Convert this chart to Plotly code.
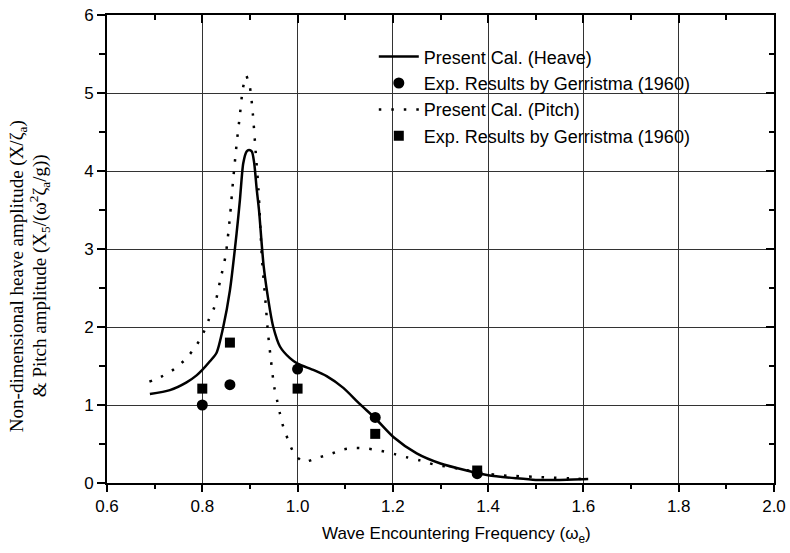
import plotly.graph_objects as go

# Present calculation - heave
heave_x = [0.69, 0.732, 0.767, 0.788, 0.80, 0.816, 0.830, 0.844, 0.858, 0.872, 0.879, 0.886, 0.893, 0.898,
           0.904, 0.909, 0.914, 0.919, 0.929, 0.942, 0.949, 0.963, 0.984, 1.0, 1.033, 1.061, 1.096, 1.131,
           1.163, 1.201, 1.25, 1.30, 1.355, 1.40, 1.46, 1.50, 1.55, 1.61]
heave_y = [1.14, 1.19, 1.29, 1.38, 1.45, 1.56, 1.67, 2.0, 2.47, 3.2, 3.63, 4.10, 4.25, 4.27,
           4.25, 4.10, 3.78, 3.50, 2.77, 2.22, 2.0, 1.75, 1.60, 1.53, 1.45, 1.37, 1.22, 1.01,
           0.83, 0.59, 0.38, 0.25, 0.16, 0.10, 0.06, 0.04, 0.04, 0.05]

# Present calculation - pitch
pitch_x = [0.689, 0.713, 0.741, 0.767, 0.787, 0.802, 0.814, 0.825, 0.837, 0.849, 0.858, 0.865, 0.873,
           0.879, 0.885, 0.892, 0.900, 0.906, 0.912, 0.918, 0.925, 0.933, 0.938, 0.944, 0.951, 0.957,
           0.963, 0.970, 0.979, 0.991, 1.012, 1.04, 1.068, 1.096, 1.12, 1.148, 1.176, 1.204, 1.229,
           1.257, 1.285, 1.313, 1.341, 1.397, 1.425, 1.453, 1.495, 1.53, 1.57, 1.60]
pitch_y = [1.30, 1.36, 1.46, 1.60, 1.76, 1.92, 2.10, 2.25, 2.58, 2.92, 3.41, 3.90, 4.40,
           4.72, 5.05, 5.22, 5.07, 4.74, 4.25, 3.76, 2.90, 2.30, 1.92, 1.58, 1.23, 1.06,
           0.89, 0.72, 0.57, 0.40, 0.27, 0.32, 0.37, 0.43, 0.45, 0.44, 0.41, 0.37, 0.33,
           0.29, 0.24, 0.21, 0.18, 0.12, 0.10, 0.09, 0.08, 0.07, 0.06, 0.05]

# Experimental results (Gerristma 1960)
exp_x = [0.80, 0.858, 1.0, 1.163, 1.377]
exp_heave = [1.0, 1.26, 1.46, 0.84, 0.12]
exp_pitch = [1.21, 1.80, 1.21, 0.63, 0.16]

x_ticks = [0.6, 0.8, 1.0, 1.2, 1.4, 1.6, 1.8, 2.0]
y_ticks = [0, 1, 2, 3, 4, 5, 6]

fig = go.Figure()
fig.add_trace(go.Scatter(x=heave_x, y=heave_y, mode="lines", name="Present Cal. (Heave)",
                         line=dict(color="black", width=2.5, shape="spline", smoothing=0.7)))
fig.add_trace(go.Scatter(x=exp_x, y=exp_heave, mode="markers", name="Exp. Results by Gerristma (1960)",
                         marker=dict(symbol="circle", size=11, color="black")))
fig.add_trace(go.Scatter(x=pitch_x, y=pitch_y, mode="lines", name="Present Cal. (Pitch)",
                         line=dict(color="black", width=2.5, dash="2.5px,10px", shape="spline", smoothing=0.7)))
fig.add_trace(go.Scatter(x=exp_x, y=exp_pitch, mode="markers", name="Exp. Results by Gerristma (1960) ",
                         marker=dict(symbol="square", size=10, color="black")))
# invisible trace carrying the mirrored (top / right) axes
fig.add_trace(go.Scatter(x=[], y=[], xaxis="x2", yaxis="y2", showlegend=False))

tick_font = dict(family="Liberation Sans, Arial", size=17, color="black")
serif_font = dict(family="Liberation Serif, Times New Roman", size=19, color="black")

fig.update_layout(
    width=790, height=553,
    margin=dict(l=107, r=16, t=15, b=70, autoexpand=False),
    paper_bgcolor="white", plot_bgcolor="white",
    showlegend=True,
    legend=dict(x=0.4, y=0.95, xanchor="left", yanchor="top", bgcolor="rgba(0,0,0,0)",
                font=dict(family="Liberation Sans, Arial", size=18, color="black"),
                tracegroupgap=0, itemwidth=40),
    xaxis=dict(range=[0.6, 2.0], tickvals=x_ticks, ticktext=[f"{v:.1f}" for v in x_ticks],
               showgrid=True, gridcolor="#333", gridwidth=1, zeroline=False,
               showline=True, linecolor="black", linewidth=2,
               ticks="outside", ticklen=7, tickwidth=1.5, tickcolor="black",
               minor=dict(dtick=0.1, tick0=0.6, ticks="outside", ticklen=4, tickwidth=1.5,
                          tickcolor="black", showgrid=False),
               tickfont=tick_font, ticklabeloverflow="allow", automargin=False),
    yaxis=dict(range=[0, 6], tickvals=y_ticks, ticktext=[str(v) for v in y_ticks],
               showgrid=True, gridcolor="#333", gridwidth=1, zeroline=False,
               showline=True, linecolor="black", linewidth=2,
               ticks="outside", ticklen=8, tickwidth=1.5, tickcolor="black",
               minor=dict(dtick=0.5, tick0=0, ticks="outside", ticklen=6, tickwidth=1.5,
                          tickcolor="black", showgrid=False),
               tickfont=tick_font, ticklabeloverflow="allow", automargin=False),
    xaxis2=dict(overlaying="x", side="top", range=[0.6, 2.0], tickvals=x_ticks, showticklabels=False,
                showgrid=False, zeroline=False, showline=True, linecolor="black", linewidth=2,
                ticks="inside", ticklen=8, tickwidth=1.5, tickcolor="black", automargin=False,
                minor=dict(dtick=0.1, tick0=0.6, ticks="inside", ticklen=5, tickwidth=1.5, tickcolor="black")),
    yaxis2=dict(overlaying="y", side="right", range=[0, 6], tickvals=y_ticks, showticklabels=False,
                showgrid=False, zeroline=False, showline=True, linecolor="black", linewidth=2,
                ticks="inside", ticklen=8, tickwidth=1.5, tickcolor="black", automargin=False,
                minor=dict(dtick=0.5, tick0=0, ticks="inside", ticklen=5, tickwidth=1.5, tickcolor="black")),
    shapes=[dict(type="rect", xref="paper", yref="paper", x0=0.331, x1=0.9595, y0=0.715, y1=0.968,
                 fillcolor="white", line=dict(width=0), layer="between")],
    annotations=[
        dict(text="Wave Encountering Frequency (ω<sub>e</sub>)", xref="paper", yref="paper",
             x=(456 - 107) / 667, y=(483 - 535) / 468, xanchor="center", yanchor="middle",
             showarrow=False, font=tick_font),
        dict(text="Non-dimensional heave amplitude (X/ζ<sub>a</sub>)", xref="paper", yref="paper",
             x=(18 - 107) / 667, y=0.442, xanchor="center", yanchor="middle", textangle=-90,
             showarrow=False, font=serif_font),
        dict(text="& Pitch amplitude (X<sub>5</sub>/(ω<sup>2</sup>ζ<sub>a</sub>/g))", xref="paper", yref="paper",
             x=(39 - 107) / 667, y=0.442, xanchor="center", yanchor="middle", textangle=-90,
             showarrow=False, font=serif_font),
    ],
)

fig.write_html("out.html", config={"displayModeBar": False},
               post_script="document.body.style.margin='0';document.body.style.overflow='hidden';")
